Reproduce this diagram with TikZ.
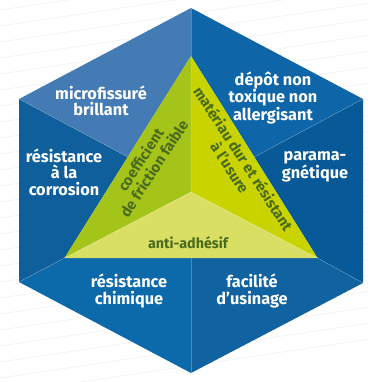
\documentclass[tikz,border=0pt]{standalone}
\usepackage{fontspec}
\setmainfont{Fira Sans}
\usetikzlibrary{calc}
\definecolor{cUL}{HTML}{447BB5}
\definecolor{cUR}{HTML}{0E66A8}
\definecolor{cR}{HTML}{075A97}
\definecolor{cLR}{HTML}{1062A0}
\definecolor{cLL}{HTML}{0C69AA}
\definecolor{cL}{HTML}{0F5F9C}
\definecolor{gL}{HTML}{A4C41A}
\definecolor{gR}{HTML}{C9D300}
\definecolor{gB}{HTML}{D8DF62}
\definecolor{gtext}{HTML}{4A6A1E}
\tikzset{
  outer/.style={text=white, font=\bfseries\fontsize{16.3}{16.5}\selectfont, align=center, inner sep=0pt},
  inner/.style={text=gtext, font=\bfseries\fontsize{14.3}{15.5}\selectfont, align=center, inner sep=0pt},
  rinner/.style={inner, font=\bfseries\fontsize{14.8}{16}\selectfont},
  seam/.style={draw=white, draw opacity=0.25, line width=0.5pt},
  bgline/.style={draw=black!6, line width=0.6pt}
}
\begin{document}
\begin{tikzpicture}[x=1pt,y=-1pt]
\useasboundingbox (0,0) rectangle (370,382);
% faint background stripes
\foreach \k in {0,...,24} {
  \draw[bgline] (0,{\k*16+10}) -- (370,{\k*16-45});
}
% hexagon vertices
\coordinate (T) at (191,8);
\coordinate (UR) at (363,99);
\coordinate (LR) at (363,283);
\coordinate (B) at (191,373);
\coordinate (LL) at (19,282);
\coordinate (UL) at (19,99);
% triangle
\coordinate (tT) at (191,56);
\coordinate (tL) at (64.5,258);
\coordinate (tR) at (317.5,258);
\coordinate (C) at (191,192);
\coordinate (mL) at ($(tT)!0.5!(tL)$);
\coordinate (mR) at ($(tT)!0.5!(tR)$);
\coordinate (mB) at ($(tL)!0.5!(tR)$);
% outer regions
\fill[cUL] (T) -- (UL) -- (mL) -- (tT) -- cycle;
\fill[cUR] (T) -- (tT) -- (mR) -- (UR) -- cycle;
\fill[cR] (UR) -- (mR) -- (tR) -- (LR) -- cycle;
\fill[cLR] (LR) -- (tR) -- (mB) -- (B) -- cycle;
\fill[cLL] (B) -- (mB) -- (tL) -- (LL) -- cycle;
\fill[cL] (LL) -- (tL) -- (mL) -- (UL) -- cycle;
% inner triangles
\fill[gL] (tT) -- (tL) -- (C) -- cycle;
\fill[gR] (tT) -- (C) -- (tR) -- cycle;
\fill[gB] (C) -- (tL) -- (tR) -- cycle;
% seams
\draw[seam] (T) -- (tT);
\draw[seam] (UL) -- (mL);
\draw[seam] (UR) -- (mR);
\draw[seam] (LR) -- (tR);
\draw[seam] (B) -- (mB);
\draw[seam] (LL) -- (tL);
\draw[seam] (C) -- (tT) (C) -- (tL) (C) -- (tR);
% texts
\node[outer] (t1) at (101,101) {microfissuré\\brillant};
\node[outer] (t2) at (273,98) {dépôt non\\toxique non\\allergisant};
\node[outer] (t3) at (315,167) {parama-\\gnétique};
\node[outer] (t4) at (64,172) {résistance\\à la\\corrosion};
\node[outer] (t5) at (129,291) {résistance\\chimique};
\node[outer] (t6) at (252,291) {facilité\\d\char39usinage};
\node[inner] (t7) at (188,243) {anti-adhésif};
\node[rinner, rotate=57] (t8) at (147,164) {coefficient\\de friction faible};
\node[rinner, rotate=-57] (t9) at (237,163) {matériau dur et résistant\\à l\char39usure};
\end{tikzpicture}
\end{document}
